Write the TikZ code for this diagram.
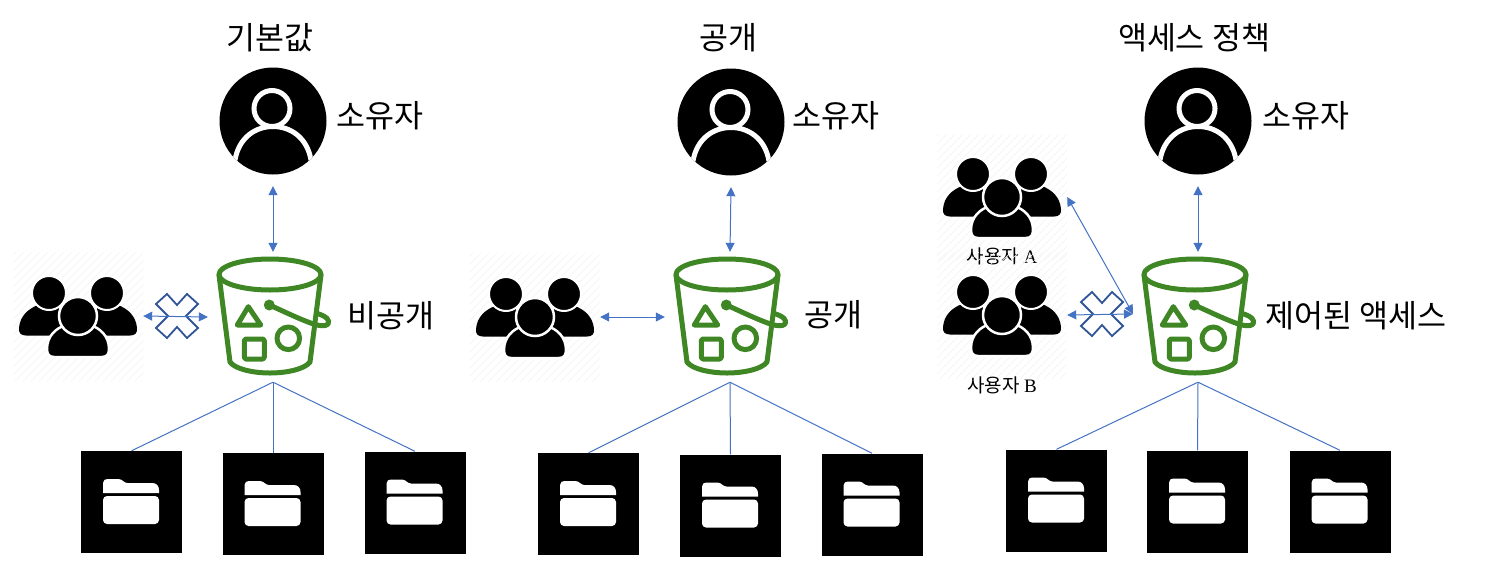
\documentclass[tikz,border=0pt]{standalone}
\usepackage{fontspec}
\setmainfont{Noto Sans CJK KR}
\newfontfamily\latinfont{Liberation Serif}
\usetikzlibrary{arrows.meta}

\definecolor{bucketgreen}{HTML}{3F8624}
\definecolor{linkblue}{HTML}{4472C4}
\definecolor{crossblue}{HTML}{2F5597}

\tikzset{
  ownerbox/.style={circle,minimum size=130pt,inner sep=0pt},
  bucketbox/.style={rectangle,minimum size=130pt,inner sep=0pt},
  folderbox/.style={rectangle,fill=black,minimum width=101pt,minimum height=102pt,inner sep=0pt},
  groupbox/.style={rectangle,minimum width=130pt,minimum height=#1,inner sep=0pt,
    path picture={
      \foreach \k in {-300,-292,...,300}
        \draw[black!5,line width=0.6pt] ([xshift=\k pt,yshift=-150pt]path picture bounding box.center)
          -- ++(300pt,300pt);
    }},
  groupbox/.default=128pt,
  link/.style={linkblue,line width=1pt},
  duplex/.style={link,{Triangle[length=9pt,width=9pt]}-{Triangle[length=9pt,width=9pt]}},
  title/.style={font=\fontsize{31.5}{32}\selectfont},
  small/.style={font=\fontsize{19}{19}\selectfont},
  ownericon/.pic={
    \fill[black] (0,0) circle (53.5);
    \begin{scope}
      \clip (0,0) circle (53.5);
      \draw[white,line width=5pt] (-38,39) .. controls (-34,16) and (-17,5.5) .. (0,5.5)
        .. controls (17,5.5) and (34,16) .. (38,39);
    \end{scope}
    \draw[white,fill=black,line width=5pt] (-1,-12.5) circle (18);
  },
  groupicon/.pic={
    \foreach \s in {-1,1} {
      \begin{scope}[xscale=\s]
        \fill[black] (-52,19.5) .. controls (-57,19.5) and (-59.5,17) .. (-59,12)
          .. controls (-58,0) and (-50,-7) .. (-40,-11) -- (-20,-11) -- (-10,19.5) -- cycle;
        \draw[white,fill=black,line width=2pt] (-29,-23) circle (17);
      \end{scope}
    }
    \draw[white,fill=black,line width=2.5pt] (-24,41) .. controls (-29,41) and (-31,38) .. (-31,33)
      .. controls (-31,20) and (-22,12) .. (-12,9) -- (12,9)
      .. controls (22,12) and (31,20) .. (31,33) .. controls (31,38) and (29,41) .. (24,41) -- cycle;
    \draw[white,fill=black,line width=2.5pt] (0,0) circle (19);
  },
  crossicon/.pic={
    \draw[crossblue,line width=1.8pt,line join=miter] (0,-11) -- (10,-22) -- (21,-12) -- (9,0) -- (21,12)
      -- (10,22) -- (0,11) -- (-10,22) -- (-21,12) -- (-9,0) -- (-21,-12) -- (-10,-22) -- cycle;
  },
  bucketicon/.pic={
    \begin{scope}[bucketgreen,line width=5pt,line join=round,line cap=round]
      \draw (-3,-42.5) ellipse (51 and 15.5);
      \draw (-54,-42) -- (-43,45) .. controls (-38,52) and (-20,56) .. (-3,56)
        .. controls (14,56) and (32,52) .. (37,45) -- (48,-42);
      \draw (-24.7,-10.3) -- (-35.7,8) -- (-12.3,8) -- cycle;
      \draw[rounded corners=1.5pt] (-28.7,22) rectangle (-8.7,42);
      \draw (15.3,21.3) circle (11.3);
      \fill (-3.7,-12) circle (5.5);
      \draw (-3.7,-12) .. controls (8,-7) and (30,4) .. (43.7,8)
        .. controls (50,9.5) and (57,9) .. (55.5,4) .. controls (54.5,0) and (49,-2) .. (43.7,-3.7);
    \end{scope}
  },
  foldericon/.pic={
    \fill[white,rounded corners=4pt] (-28.5,-6) rectangle (27.5,22);
    \fill[white] (-28.5,-9) -- (-28.5,-19) .. controls (-28.5,-22) and (-26,-23) .. (-24,-23)
      -- (-13,-23) .. controls (-9,-23) and (-8,-19) .. (-4,-19) -- (21,-19)
      .. controls (25,-19) and (27.5,-16) .. (27.5,-12) -- (27.5,-9) -- cycle;
  }
}

\begin{document}
\begin{tikzpicture}[x=1pt,y=-1pt]
\useasboundingbox (0,0) rectangle (1496,587);

   % Default
   \node[title] (t1) at (270,38) {기본값};
   \node[ownerbox] (o1) at (273,121) {};
   \pic at (o1) {ownericon};
   \node[title] (ol1) at (380,116) {소유자};
   \node[bucketbox] (b1) at (273,317) {};
   \pic at (b1) {bucketicon};
   \node[title] (bl1) at (391,316) {비공개};
   \node[groupbox] (g1) at (78,316) {};
   \pic at (g1) {groupicon};
   \node[folderbox] (f11) at (131.5,502) {};
   \node[folderbox] (f12) at (273,504) {};
   \node[folderbox] (f13) at (415,502.5) {};
   \foreach \f in {f11,f12,f13} {
     \pic at (\f) {foldericon};
     \draw[link] (b1.south) -- (\f.north);
   }
   \draw[duplex] (o1.south) -- (b1.north);
   \pic at (177,316) {crossicon};
   \draw[duplex] (g1.east) -- (b1.west);

   % Public
   \node[title] (t2) at (728,38) {공개};
   \node[ownerbox] (o2) at (731,122) {};
   \pic at (o2) {ownericon};
   \node[title] (ol2) at (836,116) {소유자};
   \node[bucketbox] (b2) at (730,317) {};
   \pic at (b2) {bucketicon};
   \node[title] (bl2) at (833,315) {공개};
   \node[groupbox] (g2) at (535,317) {};
   \pic at (g2) {groupicon};
   \node[folderbox] (f21) at (588.5,504) {};
   \node[folderbox] (f22) at (730.5,505.5) {};
   \node[folderbox] (f23) at (872,504.5) {};
   \foreach \f in {f21,f22,f23} {
     \pic at (\f) {foldericon};
     \draw[link] (b2.south) -- (\f.north);
   }
   \draw[duplex] (o2.south) -- (b2.north);
   \draw[duplex] (g2.east) -- (b2.west);

   % Access policy
   \node[title] (t3) at (1194,38) {액세스 정책};
   \node[ownerbox] (o3) at (1198,121) {};
   \pic at (o3) {ownericon};
   \node[title] (ol3) at (1306,116) {소유자};
   \node[bucketbox] (b3) at (1198,317) {};
   \pic at (b3) {bucketicon};
   \node[title] (bl3) at (1356,316) {제어된 액세스};
   \node[groupbox=126pt] (g3a) at (1002,197) {};
   \pic at (g3a) {groupicon};
   \node[small] (gl3a) at (1002,256) {사용자 {\latinfont A}};
   \node[groupbox=126pt] (g3b) at (1002,315) {};
   \pic at (g3b) {groupicon};
   \node[small] (gl3b) at (1002,385) {사용자 {\latinfont B}};
   \node[folderbox] (f31) at (1056.5,500.5) {};
   \node[folderbox] (f32) at (1197.5,501.5) {};
   \node[folderbox] (f33) at (1340,501.5) {};
   \foreach \f in {f31,f32,f33} {
     \pic at (\f) {foldericon};
     \draw[link] (b3.south) -- (\f.north);
   }
   \draw[duplex] (o3.south) -- (b3.north);
   \pic at (1102,314) {crossicon};
   \coordinate (b3in) at (1133,314);
   \draw[duplex] (g3a.east) -- (b3in);
   \draw[duplex] (g3b.east) -- (b3in);

\end{tikzpicture}
\end{document}
